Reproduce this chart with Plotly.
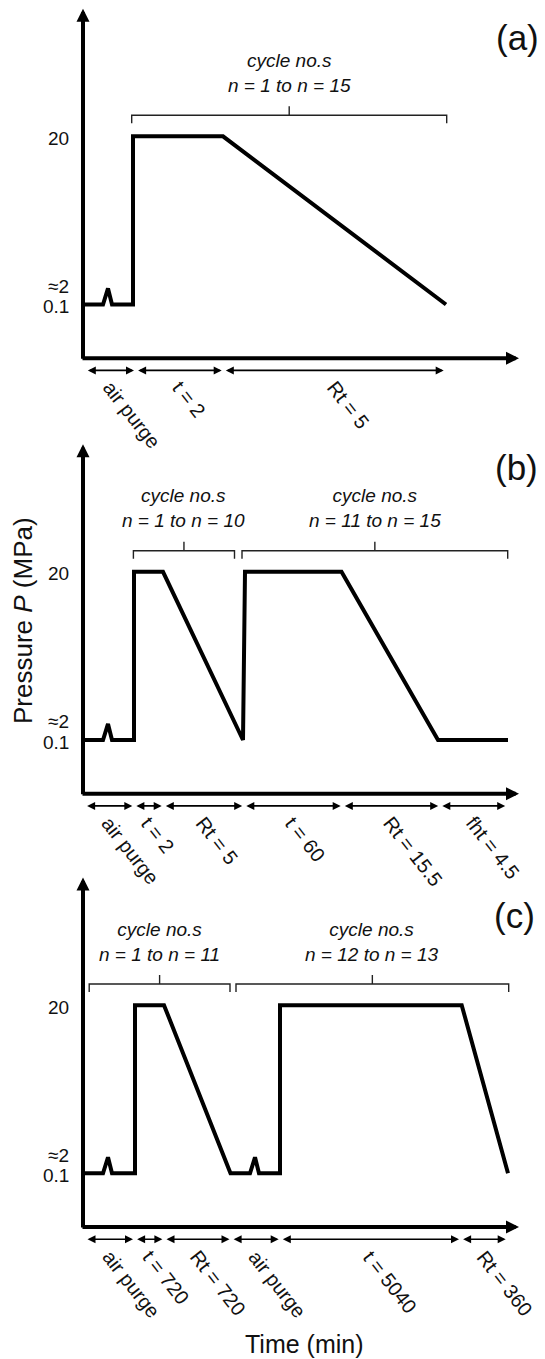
import plotly.graph_objects as go

# ------------------------------------------------------------------
# DATA (schematic time axis, pressure in MPa)
# ------------------------------------------------------------------
pressure_tick_values = [20, 2, 0.1]
pressure_tick_labels = ["20", "≈2", "0.1"]

# panel (a)
a_time = [2, 20, 25, 29, 50, 50, 140, 363]
a_pressure = [0.1, 0.1, 2, 0.1, 0.1, 20, 20, 0.1]
a_phase_bounds = [2, 52.3, 140, 362]
a_phase_labels = ["air purge", "t = 2", "Rt = 5"]
a_cycle_spans = [[48.7, 363.7]]
a_cycle_labels = ["n = 1 to n = 15"]

# panel (b)
b_time = [2, 20, 25, 29, 51, 51, 80, 160, 162, 258.5, 355, 425]
b_pressure = [0.1, 0.1, 2, 0.1, 0.1, 20, 20, 0.1, 20, 20, 0.1, 0.1]
b_phase_bounds = [1.3, 50.6, 80, 160.5, 259, 356.5, 423.5]
b_phase_labels = ["air purge", "t = 2", "Rt = 5", "t = 60", "Rt = 15.5", "fht = 4.5"]
b_cycle_spans = [[50.4, 151.5], [159, 424.7]]
b_cycle_labels = ["n = 1 to n = 10", "n = 11 to n = 15"]

# panel (c)
c_time = [2, 20, 25, 29, 52, 52, 81, 147.5, 167, 172, 176, 197, 197, 378.7, 425]
c_pressure = [0.1, 0.1, 2, 0.1, 0.1, 20, 20, 0.1, 0.1, 2, 0.1, 0.1, 20, 20, 0.1]
c_phase_bounds = [1.7, 51.3, 80.7, 147.8, 197, 377.3, 424]
c_phase_labels = ["air purge", "t = 720", "Rt = 720", "air purge", "t = 5040", "Rt = 360"]
c_cycle_spans = [[6.2, 147], [153, 425.7]]
c_cycle_labels = ["n = 1 to n = 11", "n = 12 to n = 13"]

panel_tags = ["(a)", "(b)", "(c)"]
y_title = "Pressure <i>P</i> (MPa)"
x_title = "Time (min)"

# ------------------------------------------------------------------
# LAYOUT / STYLE
# ------------------------------------------------------------------
W, H = 545, 1359
FONT = "Liberation Sans, Arial, sans-serif"
TXT = "#111111"
K = 8.45            # px per MPa
X0 = 83             # px position of the vertical axis
Y_RANGE = [-9.0, 35.8]
AXIS_P = -6.25      # pressure value where the time axis is drawn
ARROW_TOP_P = 35.1
ARROW_ROW_P = -7.7
X_TIP = 436
BRACKET_P = 22.5
BRACKET_END = 8 / K
BRACKET_MID = 9 / K
CYCLE_TEXT_P = 27.5
TEXT_ANGLE = 52

panels = [
    dict(time=a_time, p=a_pressure, bounds=a_phase_bounds, labels=a_phase_labels,
         spans=a_cycle_spans, clabels=a_cycle_labels, l01=304.5, tag_xy=(517, 38)),
    dict(time=b_time, p=b_pressure, bounds=b_phase_bounds, labels=b_phase_labels,
         spans=b_cycle_spans, clabels=b_cycle_labels, l01=740, tag_xy=(516, 467)),
    dict(time=c_time, p=c_pressure, bounds=c_phase_bounds, labels=c_phase_labels,
         spans=c_cycle_spans, clabels=c_cycle_labels, l01=1173.3, tag_xy=(514, 915)),
]


def domain_for(l01):
    bottom = l01 + (0.1 - Y_RANGE[0]) * K
    top = l01 - (Y_RANGE[1] - 0.1) * K
    return [1 - bottom / H, 1 - top / H]


fig = go.Figure()
annotations = []
layout_axes = {}

for i, pn in enumerate(panels):
    n = "" if i == 0 else str(i + 1)
    xr, yr = "x" + n, "y" + n
    layout_axes["xaxis" + n] = dict(domain=[0, 1], range=[-X0, W - X0], visible=False,
                                    anchor=yr, fixedrange=True)
    layout_axes["yaxis" + n] = dict(domain=domain_for(pn["l01"]), range=Y_RANGE,
                                    visible=False, anchor=xr, fixedrange=True)

    # pressure profile
    fig.add_trace(go.Scatter(x=pn["time"], y=pn["p"], mode="lines", xaxis=xr, yaxis=yr,
                             line=dict(color="black", width=4), hoverinfo="skip",
                             showlegend=False))

    # cycle brackets
    for (s0, s1), lab in zip(pn["spans"], pn["clabels"]):
        mid = (s0 + s1) / 2
        fig.add_trace(go.Scatter(
            x=[s0, s0, mid, mid, mid, s1, s1],
            y=[BRACKET_P - BRACKET_END, BRACKET_P, BRACKET_P, BRACKET_P + BRACKET_MID,
               BRACKET_P, BRACKET_P, BRACKET_P - BRACKET_END],
            mode="lines", xaxis=xr, yaxis=yr, line=dict(color="#222222", width=1.4),
            hoverinfo="skip", showlegend=False))
        annotations.append(dict(x=mid, y=CYCLE_TEXT_P, xref=xr, yref=yr, showarrow=False,
                                text="<i>cycle no.s</i><br><i>" + lab + "</i>",
                                font=dict(family=FONT, size=19, color=TXT),
                                xanchor="center", yanchor="middle"))

    # axes with arrow heads
    annotations.append(dict(x=X_TIP, y=AXIS_P, ax=-2, ay=AXIS_P, xref=xr, yref=yr,
                            axref=xr, ayref=yr, text="", showarrow=True, arrowhead=2,
                            arrowsize=0.65, arrowwidth=4, arrowcolor="black", standoff=0))
    annotations.append(dict(x=0, y=ARROW_TOP_P, ax=0, ay=AXIS_P - 2 / K, xref=xr, yref=yr,
                            axref=xr, ayref=yr, text="", showarrow=True, arrowhead=2,
                            arrowsize=0.65, arrowwidth=4, arrowcolor="black", standoff=0))

    # pressure tick labels
    for v, t, ys in zip(pressure_tick_values, pressure_tick_labels, [-2, 2, -2.5]):
        annotations.append(dict(x=0, y=v, xref=xr, yref=yr, text=t, showarrow=False,
                                xanchor="right", yanchor="middle", xshift=-12, yshift=ys,
                                font=dict(family=FONT, size=19, color=TXT)))

    # phase double arrows and rotated labels
    b = pn["bounds"]
    for j, lab in enumerate(pn["labels"]):
        x0, x1 = b[j] + 1.3, b[j + 1] - 1.3
        annotations.append(dict(x=x1, y=ARROW_ROW_P, ax=x0, ay=ARROW_ROW_P, xref=xr, yref=yr,
                                axref=xr, ayref=yr, text="", showarrow=True,
                                arrowside="end+start", arrowhead=2, startarrowhead=2,
                                arrowsize=1.0, startarrowsize=1.0, arrowwidth=1.6,
                                arrowcolor="black", standoff=0, startstandoff=0))
        annotations.append(dict(x=(b[j] + b[j + 1]) / 2, y=ARROW_ROW_P, xref=xr, yref=yr,
                                text=lab, showarrow=False, textangle=TEXT_ANGLE,
                                xanchor="left", yanchor="top", xshift=-14, yshift=-4,
                                font=dict(family=FONT, size=20, color=TXT)))

    # panel tag
    tx, ty = pn["tag_xy"]
    annotations.append(dict(x=tx / W, y=1 - ty / H, xref="paper", yref="paper",
                            text=panel_tags[i], showarrow=False, xanchor="center",
                            yanchor="middle", font=dict(family=FONT, size=35, color=TXT)))

# axis titles
annotations.append(dict(x=23 / W, y=1 - 621 / H, xref="paper", yref="paper", text=y_title,
                        showarrow=False, textangle=-90, xanchor="center", yanchor="middle",
                        font=dict(family=FONT, size=26, color=TXT)))
annotations.append(dict(x=304.5 / W, y=1 - 1344 / H, xref="paper", yref="paper", text=x_title,
                        showarrow=False, xanchor="center", yanchor="middle",
                        font=dict(family=FONT, size=25, color=TXT)))

fig.update_layout(width=W, height=H, margin=dict(l=0, r=0, t=0, b=0),
                  paper_bgcolor="white", plot_bgcolor="white",
                  annotations=annotations, showlegend=False, **layout_axes)

fig.write_html("out.html", config={"displayModeBar": False})
